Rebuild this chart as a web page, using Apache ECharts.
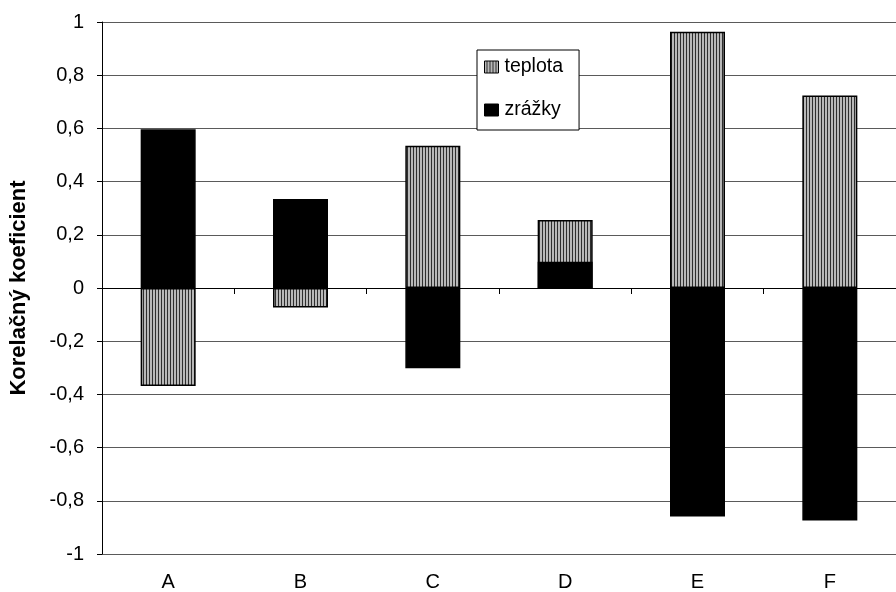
<!DOCTYPE html>
<html>
<head>
<meta charset="utf-8">
<script src="https://cdn.jsdelivr.net/npm/echarts@6/dist/echarts.min.js"></script>
<style>
  html, body { margin: 0; padding: 0; background: #fff; }
  #chart { width: 896px; height: 592px; }
</style>
</head>
<body>
<div id="chart"></div>
<script>
// Correlation coefficients per station
const categories = ['A', 'B', 'C', 'D', 'E', 'F'];
const teplota = [-0.368, -0.073, 0.535, 0.256, 0.963, 0.724];
const zrazky = [0.597, 0.335, -0.302, 0.099, -0.859, -0.874];
const yTicks = { min: -1, max: 1, interval: 0.2 };

// Vertical hatch fill for the temperature bars
function stripePattern() {
  const c = document.createElement('canvas');
  c.width = 3; c.height = 8;
  const ctx = c.getContext('2d');
  ctx.fillStyle = '#b8b8b8';
  ctx.fillRect(0, 0, 3, 8);
  ctx.fillStyle = '#2e2e2e';
  ctx.fillRect(2, 0, 1, 8);
  return c;
}
const hatch = { image: stripePattern(), repeat: 'repeat' };

const font = 'Arial, "Liberation Sans", sans-serif';
const chart = echarts.init(document.getElementById('chart'), null, { renderer: 'canvas' });

chart.setOption({
  animation: false,
  backgroundColor: '#ffffff',
  grid: { left: 101, right: -9, top: 22, bottom: 38 },
  legend: {
    orient: 'vertical',
    left: 477,
    top: 50,
    padding: [7, 16, 10, 7],
    itemGap: 23,
    itemWidth: 14,
    itemHeight: 12,
    backgroundColor: '#ffffff',
    borderColor: '#000000',
    borderWidth: 1,
    textStyle: { fontFamily: font, fontSize: 19.5, color: '#000', padding: [0, 0, 0, 1] },
    data: [
      { name: 'teplota', icon: 'rect', itemStyle: { color: hatch, borderColor: '#000', borderWidth: 1 } },
      { name: 'zrážky', icon: 'rect', itemStyle: { color: '#000', borderColor: '#000', borderWidth: 1 } }
    ]
  },
  xAxis: [
    {
      type: 'category',
      data: categories,
      position: 'bottom',
      axisLine: { onZero: true, lineStyle: { color: '#000', width: 1 } },
      axisTick: { show: true, alignWithLabel: false, length: 6, lineStyle: { color: '#000' } },
      axisLabel: { show: false },
      splitLine: { show: false }
    },
    {
      type: 'category',
      data: categories,
      position: 'bottom',
      axisLine: { show: false, onZero: false },
      axisTick: { show: false },
      axisLabel: { show: true, margin: 18, fontFamily: font, fontSize: 20, color: '#000' }
    }
  ],
  yAxis: {
    type: 'value',
    min: yTicks.min,
    max: yTicks.max,
    interval: yTicks.interval,
    name: 'Korelačný koeficient',
    nameLocation: 'middle',
    nameRotate: 90,
    nameGap: 72,
    nameTextStyle: { fontFamily: font, fontSize: 22, fontWeight: 'bold', color: '#000' },
    axisLine: { show: true, lineStyle: { color: '#000', width: 1 } },
    axisTick: { show: true, length: 5, lineStyle: { color: '#000' } },
    axisLabel: {
      margin: 18,
      fontFamily: font,
      fontSize: 20,
      color: '#000',
      formatter: v => String(+v.toFixed(1)).replace('.', ',')
    },
    splitLine: { show: true, lineStyle: { color: '#5a5a5a', width: 1 } }
  },
  series: [
    {
      name: 'teplota',
      type: 'bar',
      xAxisIndex: 0,
      data: teplota,
      barWidth: 55,
      barGap: '-100%',
      itemStyle: { color: hatch, borderColor: '#000', borderWidth: 1.5 },
      emphasis: { disabled: true }
    },
    {
      name: 'zrážky',
      type: 'bar',
      xAxisIndex: 0,
      data: zrazky,
      barWidth: 55,
      barGap: '-100%',
      itemStyle: { color: '#000', borderColor: '#000', borderWidth: 1.5 },
      emphasis: { disabled: true }
    }
  ]
});
</script>
</body>
</html>
